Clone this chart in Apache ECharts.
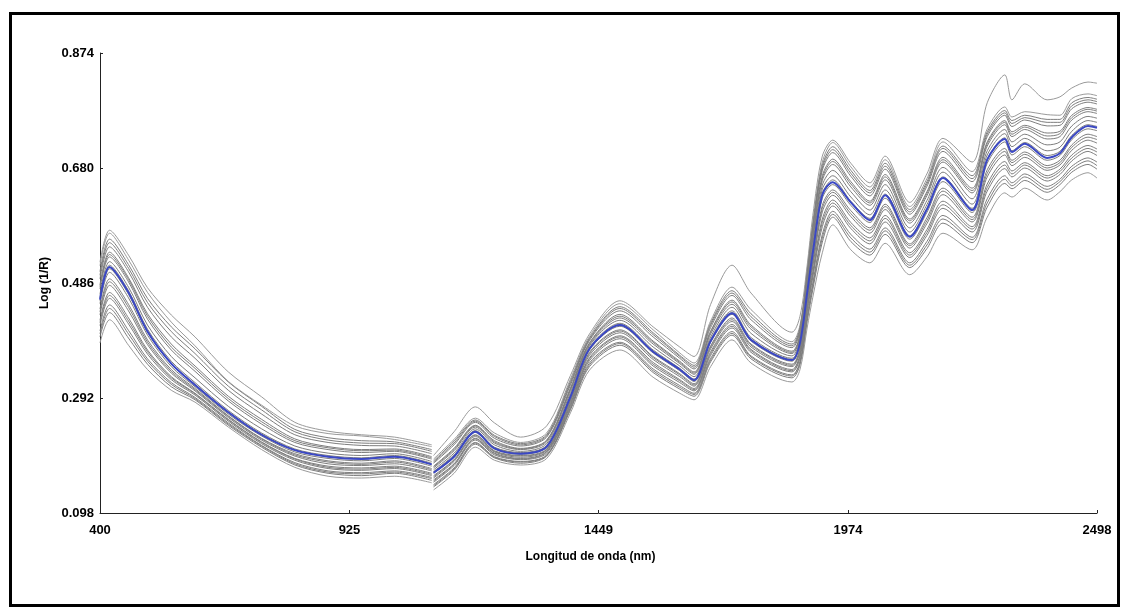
<!DOCTYPE html>
<html>
<head>
<meta charset="utf-8">
<script src="https://cdn.jsdelivr.net/npm/echarts@6/dist/echarts.min.js"></script>
<style>
  html, body { margin: 0; padding: 0; background: #fff; }
  #chart { width: 1128px; height: 614px; }
</style>
</head>
<body>
<div id="chart"></div>
<script>
// Wavelengths (nm); 1100 is the detector splice (gap)
const wavelengths = [400,420,460,500,550,600,670,740,810,880,950,1020,1098,1100,
  1102,1145,1190,1230,1285,1340,1390,1430,1494,1564,1620,1650,1685,1730,1770,1856,1873,
  1888,1900,1920,1942,1980,2020,2052,2104,2140,2174,2235,2267,2304,2319,2346,2393,2420,2445,2479,2498];

// Mean spectrum (blue)
const meanSpectrum = [0.458,0.513,0.470,0.404,0.350,0.314,0.268,0.230,0.204,0.193,0.189,0.193,0.180,null,
  0.166,0.193,0.235,0.207,0.198,0.210,0.294,0.375,0.415,0.370,0.340,0.322,0.388,0.435,0.390,0.356,0.385,
  0.469,0.537,0.635,0.656,0.622,0.592,0.634,0.564,0.610,0.663,0.609,0.694,0.729,0.707,0.721,0.697,0.705,0.732,0.751,0.748];

// Individual sample spectra (gray): one row per wavelength, one column per sample
const sampleRows = [
  [.521,.505,.493,.483,.476,.467,.461,.451,.442,.432,.423,.414,.405,.395,.385,.515,.499,.480,.456,.437,.419,.400],
  [.575,.560,.547,.538,.530,.522,.516,.504,.493,.482,.470,.460,.449,.436,.424,.570,.554,.534,.510,.488,.465,.443],
  [.533,.517,.505,.495,.488,.479,.473,.461,.450,.439,.427,.417,.406,.393,.381,.525,.511,.492,.467,.445,.422,.400],
  [.478,.460,.445,.434,.425,.415,.408,.398,.390,.382,.373,.366,.358,.349,.340,.470,.453,.430,.403,.386,.370,.354],
  [.432,.412,.395,.383,.373,.362,.354,.345,.340,.334,.328,.323,.318,.311,.305,.420,.404,.378,.350,.337,.326,.315],
  [.395,.375,.359,.346,.337,.326,.318,.311,.308,.304,.300,.297,.293,.289,.285,.380,.367,.342,.315,.306,.299,.291],
  [.336,.319,.305,.295,.287,.278,.271,.265,.262,.259,.256,.253,.250,.246,.243,.320,.312,.291,.268,.261,.255,.248],
  [.294,.278,.265,.256,.248,.240,.233,.228,.224,.221,.218,.215,.212,.209,.205,.280,.272,.252,.231,.223,.217,.211],
  [.251,.239,.230,.223,.217,.211,.206,.201,.198,.194,.190,.187,.183,.179,.175,.245,.235,.220,.204,.196,.189,.181],
  [.236,.225,.217,.210,.205,.199,.195,.190,.186,.181,.177,.173,.169,.165,.160,.232,.221,.208,.193,.184,.175,.167],
  [.230,.220,.212,.205,.200,.195,.191,.186,.182,.178,.174,.170,.166,.161,.157,.228,.216,.203,.189,.180,.172,.164],
  [.226,.218,.211,.206,.202,.198,.195,.190,.186,.181,.177,.173,.169,.165,.160,.222,.215,.204,.193,.184,.175,.167],
  [.213,.205,.198,.193,.189,.185,.182,.177,.173,.169,.165,.161,.158,.153,.149,.210,.202,.191,.180,.171,.163,.156],
  null,
  [.189,.186,.182,.177,.174,.171,.168,.165,.161,.157,.154,.150,.146,.142,.137,.195,.184,.176,.167,.159,.152,.144],
  [.222,.219,.213,.207,.203,.199,.196,.192,.188,.185,.181,.178,.174,.170,.165,.235,.216,.205,.194,.187,.180,.172],
  [.258,.255,.251,.246,.243,.240,.237,.234,.230,.227,.224,.221,.217,.214,.209,.277,.253,.245,.236,.229,.223,.216],
  [.233,.229,.224,.220,.216,.213,.209,.206,.203,.201,.199,.196,.193,.191,.187,.250,.227,.218,.208,.202,.198,.192],
  [.217,.215,.211,.207,.205,.202,.200,.197,.195,.192,.190,.188,.185,.182,.179,.226,.213,.206,.199,.194,.189,.184],
  [.233,.230,.226,.221,.218,.215,.212,.209,.206,.204,.202,.199,.196,.194,.190,.245,.228,.220,.211,.205,.201,.195],
  [.324,.320,.314,.309,.305,.301,.297,.293,.289,.286,.283,.279,.276,.272,.267,.330,.317,.307,.295,.288,.281,.274],
  [.396,.393,.389,.385,.382,.380,.377,.373,.369,.364,.360,.355,.351,.345,.339,.400,.391,.384,.375,.367,.358,.348],
  [.451,.446,.439,.433,.427,.423,.418,.413,.407,.402,.397,.392,.386,.381,.373,.456,.443,.430,.416,.405,.395,.384],
  [.407,.402,.395,.388,.383,.378,.373,.368,.362,.357,.352,.346,.341,.335,.327,.412,.399,.386,.371,.360,.349,.338],
  [.368,.364,.359,.354,.350,.346,.342,.338,.333,.328,.323,.318,.313,.307,.300,.378,.362,.352,.340,.331,.321,.310],
  [.351,.347,.341,.336,.332,.328,.324,.320,.316,.312,.308,.304,.300,.295,.289,.362,.344,.334,.322,.314,.306,.298],
  [.422,.418,.411,.405,.400,.395,.391,.386,.380,.375,.370,.364,.359,.353,.345,.450,.415,.403,.389,.378,.367,.356],
  [.479,.473,.465,.457,.450,.445,.439,.433,.427,.421,.416,.410,.404,.398,.390,.516,.469,.454,.436,.424,.413,.401],
  [.441,.434,.424,.415,.408,.401,.394,.388,.383,.378,.374,.369,.363,.358,.351,.469,.429,.412,.391,.381,.372,.361],
  [.387,.383,.377,.371,.367,.363,.359,.354,.349,.345,.340,.336,.331,.326,.319,.403,.380,.369,.357,.347,.338,.329],
  [.415,.411,.405,.400,.396,.392,.388,.383,.377,.371,.366,.360,.354,.348,.340,.430,.408,.398,.386,.374,.363,.351],
  [.508,.504,.498,.492,.486,.480,.475,.465,.458,.451,.444,.437,.429,.421,.410,.515,.501,.489,.470,.455,.441,.425],
  [.589,.584,.576,.567,.560,.552,.545,.532,.523,.514,.505,.496,.486,.475,.462,.600,.580,.564,.539,.519,.501,.481],
  [.690,.684,.676,.667,.659,.651,.644,.629,.617,.606,.594,.581,.568,.555,.537,.700,.680,.663,.637,.612,.588,.562],
  [.723,.716,.706,.695,.686,.676,.667,.652,.643,.634,.626,.616,.607,.597,.584,.727,.711,.691,.660,.639,.621,.602],
  [.682,.676,.666,.657,.648,.640,.631,.617,.608,.598,.588,.578,.568,.556,.542,.688,.671,.653,.624,.603,.583,.562],
  [.648,.642,.633,.624,.617,.609,.601,.588,.579,.570,.562,.552,.543,.533,.520,.655,.638,.621,.595,.575,.557,.538],
  [.694,.688,.678,.669,.660,.652,.643,.629,.619,.610,.600,.589,.579,.568,.553,.700,.683,.665,.636,.615,.595,.574],
  [.615,.610,.602,.594,.587,.579,.572,.560,.552,.545,.537,.529,.520,.512,.500,.622,.606,.591,.566,.549,.533,.516],
  [.662,.657,.649,.640,.633,.625,.618,.605,.596,.586,.576,.566,.556,.544,.530,.670,.653,.637,.612,.591,.571,.550],
  [.724,.717,.708,.698,.690,.681,.673,.657,.646,.635,.624,.612,.600,.587,.570,.730,.713,.694,.665,.641,.618,.594],
  [.674,.667,.657,.646,.638,.628,.619,.605,.597,.589,.581,.572,.563,.554,.542,.690,.662,.642,.612,.593,.577,.559],
  [.746,.741,.733,.724,.717,.709,.702,.688,.677,.665,.653,.641,.628,.614,.597,.790,.737,.721,.695,.671,.647,.621],
  [.783,.777,.769,.760,.753,.745,.738,.724,.713,.702,.691,.679,.667,.654,.638,.837,.773,.757,.731,.708,.685,.661],
  [.766,.760,.750,.741,.733,.724,.716,.702,.693,.684,.675,.665,.655,.645,.631,.795,.755,.737,.709,.689,.670,.650],
  [.775,.769,.761,.752,.745,.737,.730,.716,.707,.698,.689,.680,.670,.659,.646,.822,.765,.749,.723,.703,.685,.665],
  [.770,.762,.751,.739,.729,.719,.709,.693,.684,.676,.667,.658,.649,.639,.626,.795,.757,.734,.701,.680,.663,.644],
  [.769,.762,.752,.742,.733,.724,.715,.701,.693,.685,.678,.669,.661,.652,.640,.800,.757,.738,.708,.689,.674,.657],
  [.797,.790,.780,.769,.761,.751,.742,.728,.719,.710,.702,.692,.683,.673,.660,.815,.785,.765,.735,.715,.697,.678],
  [.805,.799,.791,.782,.775,.767,.760,.746,.737,.727,.718,.708,.697,.686,.672,.825,.795,.779,.753,.732,.713,.692],
  [.802,.796,.788,.779,.772,.764,.757,.743,.733,.722,.712,.701,.690,.678,.663,.823,.792,.776,.750,.728,.707,.684]
];

const xTicks = [400, 925, 1449, 1974, 2498];
const yTicks = [0.098, 0.292, 0.486, 0.680, 0.874];
const xTitle = 'Longitud de onda (nm)';
const yTitle = 'Log (1/R)';

const nSamples = sampleRows[0].length;
const lightSamples = [0, 14, 15];
const series = [];
for (let s = 0; s < nSamples; s++) {
  const data = wavelengths.map((w, i) => [w, sampleRows[i] === null ? '-' : sampleRows[i][s]]);
  series.push({
    type: 'line', data, showSymbol: false, symbol: 'none', silent: true,
    smooth: 0.3, connectNulls: false,
    lineStyle: { color: lightSamples.includes(s) ? '#9a9a9a' : '#7e7e7e', width: 1 },
    z: 2
  });
}
series.push({
  type: 'line',
  data: wavelengths.map((w, i) => [w, meanSpectrum[i] === null ? '-' : meanSpectrum[i]]),
  showSymbol: false, symbol: 'none', silent: true, smooth: 0.3, connectNulls: false,
  lineStyle: { color: '#3b48c4', width: 2 }, z: 5
});

const fontFam = "'Liberation Sans', Arial, sans-serif";
const chart = echarts.init(document.getElementById('chart'), null, { renderer: 'canvas' });
chart.setOption({
  animation: false,
  backgroundColor: '#ffffff',
  grid: { left: 100, right: 31, top: 53, bottom: 101, containLabel: false },
  xAxis: {
    type: 'value', min: 400, max: 2498,
    name: xTitle, nameLocation: 'middle', nameGap: 38,
    nameTextStyle: { fontFamily: fontFam, fontWeight: 'bold', fontSize: 12, color: '#000', padding: [0, 16, 0, 0] },
    axisLine: { show: true, lineStyle: { color: '#222', width: 1 } },
    axisTick: { show: true, inside: true, length: 3, customValues: xTicks, lineStyle: { color: '#222' } },
    axisLabel: { customValues: xTicks, showMinLabel: true, showMaxLabel: true, margin: 11,
      formatter: v => String(v),
      fontFamily: fontFam, fontWeight: 'bold', fontSize: 13, color: '#000' },
    splitLine: { show: false }
  },
  yAxis: {
    type: 'value', min: 0.098, max: 0.874,
    name: yTitle, nameLocation: 'middle', nameGap: 40, nameRotate: 90,
    nameTextStyle: { fontFamily: fontFam, fontWeight: 'bold', fontSize: 12, color: '#000' },
    axisLine: { show: true, lineStyle: { color: '#222', width: 1 } },
    axisTick: { show: true, inside: true, length: 3, customValues: yTicks, lineStyle: { color: '#222' } },
    axisLabel: { customValues: yTicks, showMinLabel: true, showMaxLabel: true, margin: 6,
      formatter: v => v.toFixed(3),
      fontFamily: fontFam, fontWeight: 'bold', fontSize: 13, color: '#000' },
    splitLine: { show: false }
  },
  graphic: [{
    type: 'rect', silent: true, z: 100,
    shape: { x: 10.5, y: 13.5, width: 1108, height: 592 },
    style: { fill: null, stroke: '#000', lineWidth: 3 }
  }],
  series
});
</script>
</body>
</html>
